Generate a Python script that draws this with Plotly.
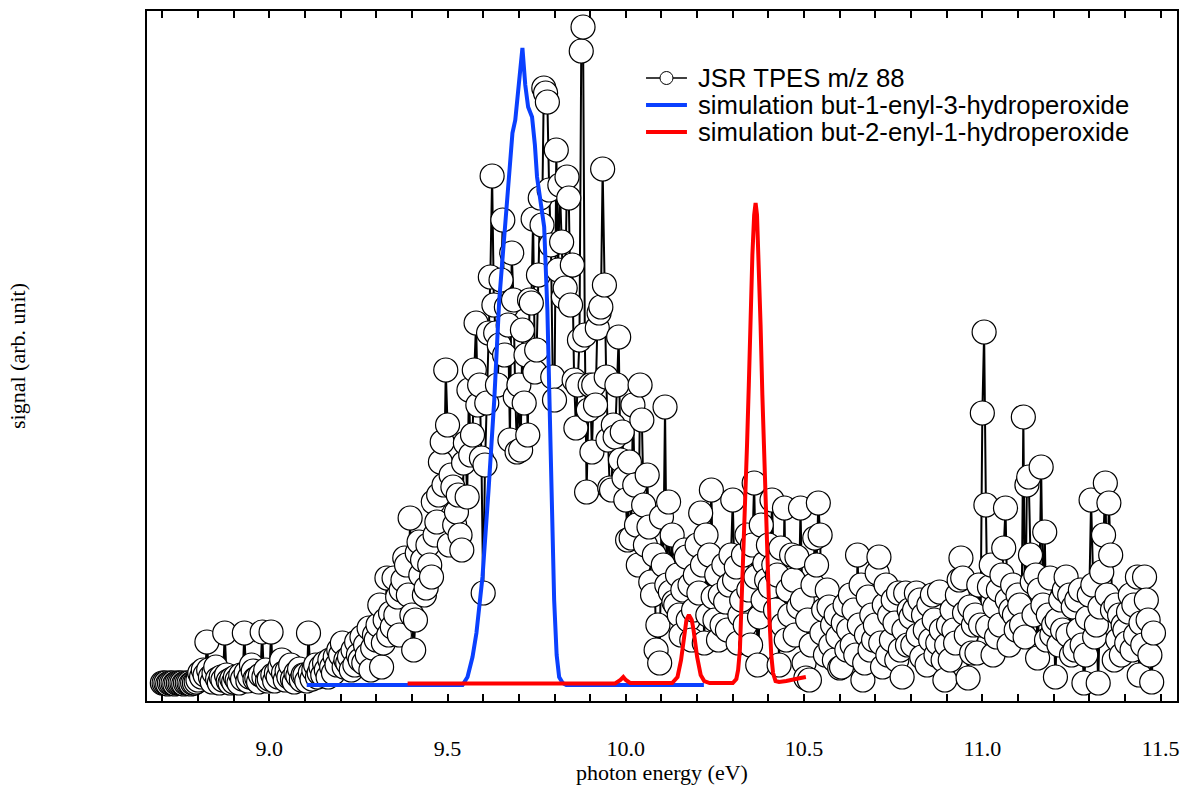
import numpy as np
import plotly.graph_objects as go

# ---------------- data (signal in arbitrary units) ----------------
# experimental scan: photon energy grid (eV) start and step
scan_start = 8.70
scan_step = 0.005

# JSR TPES m/z 88 signal, rows of 0.1 eV (20 points each)
tpes_870 = [2, 2, 2, 1, 2, 2, 2, 1, 2, 2, 2, 2, 1, 2, 2, 2, 1, 2, 2, 3]
tpes_880 = [5, 12, 8, 15, 10, 43, 15, 8, 3, 12, 18, 6, 2, 8, 5, 52, 10, 4, 2, 6]
tpes_890 = [3, 8, 5, 2, 10, 6, 52, 12, 4, 8, 20, 14, 6, 7, 3, 10, 53, 8, 15, 4]
tpes_900 = [6, 53, 10, 4, 12, 8, 18, 25, 12, 5, 14, 8, 20, 6, 3, 12, 9, 16, 5, 10]
tpes_910 = [10, 4, 52, 12, 6, 15, 20, 8, 12, 18, 10, 22, 15, 8, 25, 18, 12, 28, 20, 35]
tpes_920 = [30, 42, 18, 25, 22, 28, 15, 35, 20, 43, 30, 25, 48, 22, 40, 30, 57, 15, 37, 50]
tpes_930 = [45, 60, 80, 18, 42, 65, 107, 50, 72, 58, 107, 70, 88, 50, 95, 105, 127, 120, 90, 167]
tpes_940 = [70, 35, 65, 132, 143, 110, 125, 90, 97, 140, 120, 108, 183, 150, 163, 190, 223, 243, 200, 315]
tpes_950 = [260, 140, 210, 198, 160, 173, 190, 150, 135, 222, 242, 188, 295, 230, 250, 315, 362, 280, 300, 227]
tpes_960 = [92, 220, 282, 352, 408, 509, 380, 352, 300, 340, 405, 465, 330, 378, 360, 245, 432, 385, 288, 233]
tpes_970 = [300, 235, 355, 282, 330, 250, 385, 382, 466, 313, 335, 410, 487, 460, 597, 592, 583, 495, 440, 308]
tpes_980 = [285, 535, 415, 500, 443, 388, 397, 508, 487, 380, 420, 305, 257, 300, 345, 634, 658, 350, 193, 275]
tpes_990 = [300, 233, 300, 280, 357, 372, 378, 516, 400, 308, 245, 197, 195, 260, 248, 300, 348, 225, 253, 207]
tpes_1000 = [185, 145, 223, 147, 280, 200, 160, 120, 300, 265, 180, 140, 210, 158, 103, 90, 130, 35, 60, 22]
tpes_1010 = [168, 120, 278, 100, 183, 93, 150, 83, 80, 110, 70, 50, 95, 135, 128, 65, 100, 45, 75, 110]
tpes_1020 = [140, 92, 172, 120, 42, 150, 70, 130, 195, 88, 65, 110, 45, 90, 60, 120, 83, 55, 100, 130]
tpes_1030 = [185, 105, 118, 42, 70, 85, 130, 60, 150, 95, 40, 140, 202, 108, 20, 68, 160, 85, 122, 105]
tpes_1040 = [140, 98, 185, 120, 75, 110, 20, 137, 60, 177, 45, 95, 70, 130, 105, 50, 128, 78, 177, 85]
tpes_1050 = [22, 7, 65, 5, 40, 100, 147, 120, 182, 150, 52, 75, 30, 95, 78, 40, 60, 25, 70, 48]
tpes_1060 = [17, 18, 62, 80, 35, 55, 90, 40, 75, 30, 130, 60, 100, 5, 22, 50, 88, 35, 70, 45]
tpes_1070 = [60, 112, 128, 42, 18, 80, 100, 30, 70, 45, 85, 62, 25, 92, 35, 8, 55, 92, 40, 75]
tpes_1080 = [68, 40, 75, 92, 50, 85, 28, 70, 55, 20, 80, 45, 90, 65, 30, 42, 93, 55, 25, 5]
tpes_1090 = [40, 60, 25, 75, 55, 42, 90, 105, 127, 107, 72, 50, 7, 78, 32, 60, 70, 32, 100, 60]
tpes_1100 = [272, 353, 180, 58, 98, 120, 30, 78, 48, 95, 60, 110, 137, 177, 85, 40, 75, 100, 70, 55]
tpes_1110 = [90, 80, 60, 268, 48, 200, 208, 130, 103, 70, 110, 27, 95, 218, 80, 153, 45, 70, 107, 50]
tpes_1120 = [60, 8, 65, 40, 85, 55, 95, 108, 50, 90, 30, 78, 35, 85, 55, 95, 40, 2, 30, 67]
tpes_1130 = [90, 185, 100, 48, 60, 2, 78, 113, 150, 202, 90, 182, 130, 75, 25, 80, 45, 70, 30, 60]
tpes_1140 = [55, 42, 73, 90, 35, 80, 50, 108, 10, 62, 40, 108, 85, 65, 30, 3, 52]

tpes_signal = (tpes_870 + tpes_880 + tpes_890 + tpes_900 + tpes_910 + tpes_920 + tpes_930 +
               tpes_940 + tpes_950 + tpes_960 + tpes_970 + tpes_980 + tpes_990 + tpes_1000 +
               tpes_1010 + tpes_1020 + tpes_1030 + tpes_1040 + tpes_1050 + tpes_1060 +
               tpes_1070 + tpes_1080 + tpes_1090 + tpes_1100 + tpes_1110 + tpes_1120 +
               tpes_1130 + tpes_1140)
tpes_energy = np.round(scan_start + scan_step * np.arange(len(tpes_signal)), 3)

# simulation: but-1-enyl-3-hydroperoxide
sim1_energy = [9.105, 9.542, 9.556, 9.570, 9.581, 9.598, 9.615, 9.631, 9.645, 9.660, 9.672,
               9.682, 9.690, 9.700, 9.710, 9.718, 9.726, 9.737, 9.745, 9.751, 9.771, 9.780,
               9.791, 9.799, 9.806, 9.813, 9.823, 9.833, 10.219]
sim1_signal = [0, 0, 8, 28, 52, 108, 195, 285, 385, 455, 515,
               552, 565, 600, 637, 600, 578, 568, 540, 508, 458, 375,
               218, 85, 30, 8, 2, 0, 0]

# simulation: but-2-enyl-1-hydroperoxide
sim2_energy = [9.388, 9.970, 9.985, 9.993, 10.000, 10.012, 10.130, 10.145, 10.155, 10.160,
               10.165, 10.170, 10.177, 10.185, 10.190, 10.195, 10.200, 10.210, 10.220, 10.235,
               10.300, 10.310, 10.315, 10.320, 10.325, 10.330, 10.335, 10.340, 10.345, 10.350,
               10.355, 10.360, 10.364, 10.368, 10.373, 10.378, 10.383, 10.388, 10.393, 10.398,
               10.403, 10.408, 10.413, 10.420, 10.430, 10.450, 10.470, 10.490, 10.505]
sim2_signal = [1.5, 1.5, 5, 8, 5, 2, 2, 8, 25, 40,
               55, 65, 70, 65, 55, 40, 28, 10, 4, 2,
               2, 6, 15, 35, 80, 130, 180, 240, 300, 370,
               430, 470, 482, 470, 420, 360, 290, 230, 170, 110,
               65, 30, 12, 4, 3, 4, 5, 7, 8]

series_names = ["JSR TPES m/z 88",
                "simulation but-1-enyl-3-hydroperoxide",
                "simulation but-2-enyl-1-hydroperoxide"]
series_colors = ["black", "rgb(10,64,255)", "rgb(255,0,0)"]

# axis ticks
tick_values = [round(8.7 + 0.1 * i, 1) for i in range(29)]
tick_labels = [f"{v:.1f}" if abs(v * 2 - round(v * 2)) < 1e-6 else "" for v in tick_values]

# ---------------- figure ----------------
W, H = 1186, 795
ML, MR, MT, MB = 147, 7, 11, 94
PW, PH = W - ML - MR, H - MT - MB


def px_x(px):
    return (px - ML) / PW


def px_y(py):
    return (H - MB - py) / PH


fig = go.Figure()

fig.add_trace(go.Scatter(
    x=tpes_energy, y=tpes_signal, mode="lines+markers", name=series_names[0],
    showlegend=False,
    line=dict(color=series_colors[0], width=2),
    marker=dict(symbol="circle", size=24, color="white", line=dict(color="black", width=1.2)),
))

fig.add_trace(go.Scatter(
    x=sim1_energy, y=sim1_signal, mode="lines", name=series_names[1], showlegend=False,
    line=dict(color=series_colors[1], width=4),
))

fig.add_trace(go.Scatter(
    x=sim2_energy, y=sim2_signal, mode="lines", name=series_names[2], showlegend=False,
    line=dict(color=series_colors[2], width=4),
))

serif = "Liberation Serif, Times New Roman, serif"
sans = "Liberation Sans, Arial, sans-serif"

# legend drawn as shapes + text (tight line spacing like the reference)
legend_rows_y = [78, 105, 132]
legend_line_x = (647, 688)
legend_text_x = 697
shapes = []
annotations = []
for i, (name, col) in enumerate(zip(series_names, series_colors)):
    yy = px_y(legend_rows_y[i])
    shapes.append(dict(type="line", xref="paper", yref="paper",
                       x0=px_x(legend_line_x[0]), x1=px_x(legend_line_x[1]), y0=yy, y1=yy,
                       line=dict(color=col, width=1.5 if i == 0 else 4)))
    annotations.append(dict(text=name, xref="paper", yref="paper", x=px_x(legend_text_x), y=yy,
                            xanchor="left", yanchor="middle", showarrow=False,
                            font=dict(family=sans, size=25.7, color="black")))
cx = px_x((legend_line_x[0] + legend_line_x[1]) / 2)
cy = px_y(legend_rows_y[0])
shapes.append(dict(type="circle", xref="paper", yref="paper",
                   xsizemode="pixel", ysizemode="pixel", xanchor=cx, yanchor=cy,
                   x0=-6.5, x1=6.5, y0=-6.5, y1=6.5,
                   fillcolor="white", line=dict(color="black", width=1)))

annotations += [
    dict(text="photon energy (eV)", xref="paper", yref="paper", x=0.5, y=0,
         xanchor="center", yanchor="middle", yshift=-71, showarrow=False,
         font=dict(family=serif, size=22, color="black")),
    dict(text="signal (arb. unit)", xref="paper", yref="paper", x=0, y=0.5,
         xanchor="center", yanchor="middle", xshift=-130, textangle=-90, showarrow=False,
         font=dict(family=serif, size=22, color="black")),
]

fig.update_layout(
    width=W, height=H,
    margin=dict(l=ML, r=MR, t=MT, b=MB),
    paper_bgcolor="white", plot_bgcolor="white",
    showlegend=False,
    xaxis=dict(
        range=[8.657, 11.546],
        tickmode="array", tickvals=tick_values, ticktext=tick_labels,
        ticks="inside", ticklen=7, tickwidth=1.5, tickcolor="black",
        showline=True, linecolor="black", linewidth=2, mirror="ticks",
        showgrid=False, zeroline=False,
        tickfont=dict(family=serif, size=22, color="black"),
        ticklabelstandoff=27,
    ),
    yaxis=dict(
        range=[-16, 674],
        showticklabels=False, ticks="",
        showline=True, linecolor="black", linewidth=2, mirror=True,
        showgrid=False, zeroline=False,
    ),
    shapes=shapes,
    annotations=annotations,
)

fig.write_html("out.html",
               config={"displayModeBar": False},
               post_script="document.body.style.margin='0px';document.body.style.overflow='hidden';")
